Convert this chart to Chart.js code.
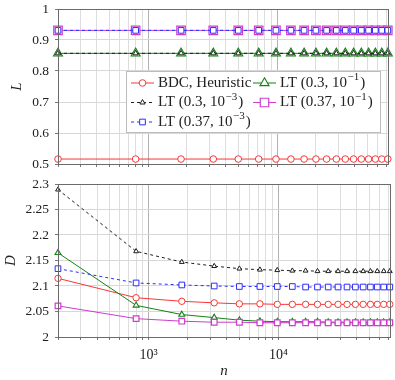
<!DOCTYPE html>
<html>
<head>
<meta charset="utf-8">
<script src="https://cdn.jsdelivr.net/npm/chart.js@4.4.0/dist/chart.umd.min.js"></script>
<style>
  html, body { margin: 0; padding: 0; background: #fff; }
  #wrap { position: relative; width: 395px; height: 380px; }
  .panel { position: absolute; left: 0; width: 395px; }
</style>
</head>
<body>
<div id="wrap">
  <div class="panel" style="top:0;height:175px"><canvas id="chartL"></canvas></div>
  <div class="panel" style="top:175px;height:205px"><canvas id="chartD"></canvas></div>
</div>
<script>
// n values (x axis, log)
const nValues = [200, 800, 1800, 3200, 5000, 7200, 9800, 12800, 16200, 20000, 24200, 28800, 33800, 39200, 45000, 51200, 57800, 64800, 72200];
// grid lines on the log axis
const gridN = [200, 300, 400, 500, 600, 700, 800, 900, 1000, 2000, 3000, 4000, 5000, 6000, 7000, 8000, 9000, 10000, 20000, 30000, 40000, 50000, 60000, 70000];

const seriesNames = ["BDC, Heuristic", "LT (0.3, 10^{-1})", "LT (0.3, 10^{-3})", "LT (0.37, 10^{-1})", "LT (0.37, 10^{-3})"];

// upper panel: L
const lBdc   = [0.516, 0.516, 0.516, 0.516, 0.516, 0.516, 0.516, 0.516, 0.516, 0.516, 0.516, 0.516, 0.516, 0.516, 0.516, 0.516, 0.516, 0.516, 0.516];
const lLt3e1 = [0.857, 0.857, 0.857, 0.857, 0.857, 0.857, 0.857, 0.857, 0.857, 0.857, 0.857, 0.857, 0.857, 0.857, 0.857, 0.857, 0.857, 0.857, 0.857];
const lLt3e3 = [0.857, 0.857, 0.857, 0.857, 0.857, 0.857, 0.857, 0.857, 0.857, 0.857, 0.857, 0.857, 0.857, 0.857, 0.857, 0.857, 0.857, 0.857, 0.857];
const lLt37e1 = [0.931, 0.931, 0.931, 0.931, 0.931, 0.931, 0.931, 0.931, 0.931, 0.931, 0.931, 0.931, 0.931, 0.931, 0.931, 0.931, 0.931, 0.931, 0.931];
const lLt37e3 = [0.931, 0.931, 0.931, 0.931, 0.931, 0.931, 0.931, 0.931, 0.931, 0.931, 0.931, 0.931, 0.931, 0.931, 0.931, 0.931, 0.931, 0.931, 0.931];

// lower panel: D
const dBdc   = [2.115, 2.077, 2.070, 2.067, 2.065, 2.065, 2.064, 2.064, 2.064, 2.064, 2.064, 2.064, 2.064, 2.064, 2.064, 2.064, 2.064, 2.064, 2.064];
const dLt3e1 = [2.165, 2.062, 2.044, 2.038, 2.033, 2.031, 2.030, 2.030, 2.030, 2.030, 2.029, 2.029, 2.029, 2.029, 2.029, 2.029, 2.029, 2.029, 2.029];
const dLt3e3 = [2.289, 2.168, 2.147, 2.139, 2.134, 2.132, 2.131, 2.130, 2.130, 2.129, 2.129, 2.129, 2.129, 2.129, 2.129, 2.129, 2.129, 2.129, 2.129];
const dLt37e1 = [2.061, 2.036, 2.031, 2.029, 2.029, 2.028, 2.028, 2.028, 2.028, 2.028, 2.028, 2.028, 2.028, 2.028, 2.028, 2.028, 2.028, 2.028, 2.028];
const dLt37e3 = [2.134, 2.106, 2.102, 2.100, 2.099, 2.099, 2.099, 2.099, 2.098, 2.098, 2.098, 2.098, 2.098, 2.098, 2.098, 2.098, 2.098, 2.098, 2.098];

const yTicksL = [0.5, 0.6, 0.7, 0.8, 0.9, 1];
const yTicksD = [2, 2.05, 2.1, 2.15, 2.2, 2.25, 2.3];

const FONT = "'Liberation Serif', serif";
// radius: [upper panel, lower panel]
const styles = [
  { color: 'rgb(245,55,55)',  pointStyle: 'circle',   radius: [3.3, 3.2], dash: [],     bw: 1,   order: 5 },
  { color: 'rgb(20,130,20)',  pointStyle: 'triangle', radius: [5.2, 3.4], dash: [],     bw: 1.1, order: 4 },
  { color: 'rgb(30,30,30)',   pointStyle: 'triangle', radius: [3, 2.8],   dash: [3, 3], bw: 1,   order: 3 },
  { color: 'rgb(205,60,205)', pointStyle: 'rect',     radius: [6, 4],     dash: [],     bw: 1.2, order: 2 },
  { color: 'rgb(45,45,250)',  pointStyle: 'rect',     radius: [4, 4],     dash: [3, 3], bw: 1,   order: 1 }
];

function makeDatasets(series, panel) {
  return series.map((vals, i) => {
    const s = styles[i];
    return {
      label: seriesNames[i],
      data: vals.map((v, k) => ({ x: nValues[k], y: v })),
      borderColor: s.color,
      borderWidth: 1,
      borderDash: s.dash,
      backgroundColor: '#fff',
      pointStyle: s.pointStyle,
      pointRadius: s.radius[panel],
      pointBorderColor: s.color,
      pointBackgroundColor: '#fff',
      pointBorderWidth: s.bw,
      tension: 0,
      order: s.order,
      clip: false
    };
  });
}

// draws text where ^{..} is a superscript
function drawRich(ctx, str, x, y, size) {
  const parts = str.split(/(\^\{[^}]*\})/);
  let cx = x;
  ctx.textBaseline = 'middle';
  ctx.textAlign = 'left';
  parts.forEach(p => {
    if (!p) return;
    if (p.startsWith('^{')) {
      const t = p.slice(2, -1).replace('-', '\u2212');
      ctx.font = Math.round(size * 0.7) + 'px ' + FONT;
      ctx.fillText(t, cx + 0.5, y - size * 0.38);
      cx += ctx.measureText(t).width + 1.5;
    } else {
      ctx.font = size + 'px ' + FONT;
      ctx.fillText(p, cx, y);
      cx += ctx.measureText(p).width;
    }
  });
}

const framePlugin = {
  id: 'frame',
  afterDatasetsDraw(chart) {
    const a = chart.chartArea, ctx = chart.ctx;
    ctx.save();
    ctx.strokeStyle = '#6a6a6a';
    ctx.lineWidth = 1;
    ctx.strokeRect(Math.round(a.left) + 0.5, Math.round(a.top) + 0.5, Math.round(a.right - a.left), Math.round(a.bottom - a.top));
    ctx.restore();
  }
};

const legendPlugin = {
  id: 'texLegend',
  afterDraw(chart) {
    const ctx = chart.ctx;
    ctx.save();
    ctx.fillStyle = '#fff';
    ctx.strokeStyle = '#bcbcbc';
    ctx.lineWidth = 1;
    ctx.fillRect(126.5, 71.5, 254, 61);
    ctx.strokeRect(126.5, 71.5, 254, 61);
    const colX = [131, 253];
    const rowY = [83, 102.5, 122];
    chart.data.datasets.forEach((ds, i) => {
      const s = styles[i];
      const x0 = colX[i % 2], y0 = rowY[Math.floor(i / 2)];
      ctx.strokeStyle = s.color;
      ctx.lineWidth = 1;
      ctx.setLineDash(s.dash);
      ctx.beginPath();
      ctx.moveTo(x0, y0);
      ctx.lineTo(x0 + 23, y0);
      ctx.stroke();
      ctx.setLineDash([]);
      ctx.fillStyle = '#fff';
      ctx.lineWidth = s.bw;
      Chart.helpers.drawPoint(ctx, { pointStyle: s.pointStyle, radius: s.radius[0], rotation: 0, borderWidth: s.bw }, x0 + 11.5, y0);
      ctx.fillStyle = '#222';
      drawRich(ctx, ds.label, x0 + 27, y0, 15);
    });
    ctx.restore();
  }
};

function makeOptions(yMin, yMax, yTicks, yTitle, titlePad, showX, xHeight) {
  return {
    responsive: true,
    maintainAspectRatio: false,
    devicePixelRatio: 1,
    animation: false,
    layout: { padding: { left: 0, right: 5, top: 9, bottom: 0 } },
    plugins: { legend: { display: false }, tooltip: { enabled: false } },
    scales: {
      x: {
        type: 'logarithmic',
        min: nValues[0],
        max: nValues[nValues.length - 1],
        afterBuildTicks(scale) { scale.ticks = gridN.map(v => ({ value: v })); },
        afterFit(scale) {
          scale.height = xHeight;
          scale.paddingLeft = scale.paddingRight = scale.paddingTop = scale.paddingBottom = 0;
        },
        border: { display: false },
        grid: {
          color: ctx => (ctx.tick && [1000, 10000].includes(ctx.tick.value)) ? '#b2b2b2' : '#dddddd',
          tickColor: '#777',
          tickLength: 3,
          lineWidth: 1
        },
        ticks: {
          display: showX,
          autoSkip: false,
          maxRotation: 0,
          padding: 7,
          color: '#222',
          font: { family: FONT, size: 14 },
          callback: v => v === 1000 ? '10\u00B3' : (v === 10000 ? '10\u2074' : '')
        },
        title: {
          display: showX,
          text: 'n',
          color: '#222',
          padding: { top: 0, bottom: 0 },
          font: { family: FONT, size: 15, style: 'italic' }
        }
      },
      y: {
        min: yMin,
        max: yMax,
        afterBuildTicks(scale) { scale.ticks = yTicks.map(v => ({ value: v })); },
        afterFit(scale) {
          scale.width = 58;
          scale.paddingLeft = scale.paddingRight = scale.paddingTop = scale.paddingBottom = 0;
        },
        border: { display: false },
        grid: { color: '#d8d8d8', tickColor: '#777', tickLength: 3, lineWidth: 1 },
        ticks: {
          padding: 6,
          color: '#222',
          font: { family: FONT, size: 13.5 },
          callback: v => String(Math.round(v * 100) / 100)
        },
        title: {
          display: true,
          text: yTitle,
          color: '#222',
          padding: { top: titlePad, bottom: 0 },
          font: { family: FONT, size: 15, style: 'italic' }
        }
      }
    }
  };
}

new Chart(document.getElementById('chartL'), {
  type: 'line',
  data: { datasets: makeDatasets([lBdc, lLt3e1, lLt3e3, lLt37e1, lLt37e3], 0) },
  options: makeOptions(0.5, 1, yTicksL, 'L', 8, false, 11),
  plugins: [framePlugin, legendPlugin]
});

new Chart(document.getElementById('chartD'), {
  type: 'line',
  data: { datasets: makeDatasets([dBdc, dLt3e1, dLt3e3, dLt37e1, dLt37e3], 1) },
  options: makeOptions(2, 2.3, yTicksD, 'D', 2, true, 43),
  plugins: [framePlugin]
});
</script>
</body>
</html>
